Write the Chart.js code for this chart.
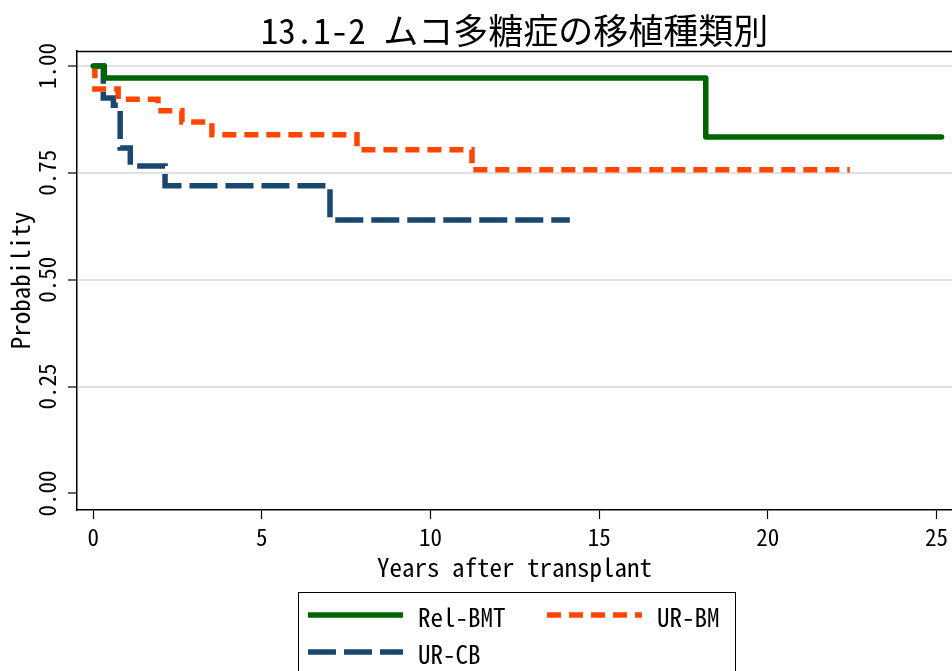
<!DOCTYPE html>
<html>
<head>
<meta charset="utf-8">
<script src="https://cdn.jsdelivr.net/npm/chart.js@4/dist/chart.umd.min.js"></script>
<style>
  html, body { margin: 0; padding: 0; background: #ffffff; }
  #wrap { width: 952px; height: 671px; overflow: hidden; }
</style>
</head>
<body>
<div id="wrap"><canvas id="c" width="952" height="671"></canvas></div>
<script>
// ---- data ----
const chartTitle = "13.1-2 ムコ多糖症の移植種類別";
const xAxisTitle = "Years after transplant";
const yAxisTitle = "Probability";
const seriesLabels = ["Rel-BMT", "UR-BM", "UR-CB"];

const relBmtTimes = [0, 0.33, 18.16, 25.15];
const relBmtSurv  = [1.0, 0.972, 0.834, 0.834];

const urBmTimes = [0, 0.05, 0.74, 1.92, 2.63, 3.52, 7.82, 11.23, 22.43];
const urBmSurv  = [1.0, 0.946, 0.922, 0.895, 0.869, 0.839, 0.804, 0.757, 0.757];

const urCbTimes = [0, 0.30, 0.60, 0.80, 1.10, 2.13, 7.02, 14.13];
const urCbSurv  = [1.0, 0.925, 0.908, 0.808, 0.766, 0.720, 0.640, 0.640];

const xTicks = [0, 5, 10, 15, 20, 25];
const yTicks = [0, 0.25, 0.5, 0.75, 1.0];
const yTickLabels = ["0.00", "0.25", "0.50", "0.75", "1.00"];

// ---- styling ----
const FONT = '"Noto Sans Mono CJK JP", "Noto Sans CJK JP", "Liberation Mono", monospace';
const colors = ["#006400", "#ff4500", "#1a476f"];
const dashes = [[], [14, 8], [28, 8]];

function toPoints(xs, ys) { return xs.map((x, i) => ({ x: x, y: ys[i] })); }

const datasets = [
  { label: seriesLabels[0], data: toPoints(relBmtTimes, relBmtSurv), borderColor: colors[0], borderDash: dashes[0],
    borderWidth: 5.5, stepped: true, pointRadius: 0, fill: false, borderCapStyle: 'round', borderJoinStyle: 'round' },
  { label: seriesLabels[1], data: toPoints(urBmTimes, urBmSurv), borderColor: colors[1], borderDash: dashes[1],
    borderWidth: 5.5, stepped: true, pointRadius: 0, fill: false, borderCapStyle: 'butt', borderJoinStyle: 'miter' },
  { label: seriesLabels[2], data: toPoints(urCbTimes, urCbSurv), borderColor: colors[2], borderDash: dashes[2],
    borderWidth: 5.5, stepped: true, pointRadius: 0, fill: false, borderCapStyle: 'butt', borderJoinStyle: 'miter' }
];

// top frame line + custom two-column legend
const framePlugin = {
  id: 'frameAndLegend',
  afterDraw(chart) {
    const ctx = chart.ctx;
    const a = chart.chartArea;
    ctx.save();
    ctx.strokeStyle = '#000';
    ctx.lineWidth = 1.5;
    ctx.beginPath();
    ctx.moveTo(a.left, a.top + 0.5);
    ctx.lineTo(a.right, a.top + 0.5);
    ctx.stroke();

    // legend box
    ctx.lineWidth = 1;
    ctx.strokeRect(298.5, 592.5, 437, 120);
    const cols = [308, 547];
    const rows = [615, 652];
    const sampleLen = 95;
    chart.data.datasets.forEach((ds, i) => {
      const cx = cols[i % 2];
      const cy = rows[Math.floor(i / 2)];
      ctx.beginPath();
      ctx.setLineDash(ds.borderDash || []);
      ctx.lineDashOffset = 0;
      ctx.strokeStyle = ds.borderColor;
      ctx.lineWidth = ds.borderWidth;
      ctx.lineCap = 'butt';
      ctx.moveTo(cx, cy);
      ctx.lineTo(cx + sampleLen, cy);
      ctx.stroke();
      ctx.setLineDash([]);
      ctx.fillStyle = '#000';
      ctx.font = '25px ' + FONT;
      ctx.textAlign = 'left';
      ctx.textBaseline = 'middle';
      ctx.fillText(ds.label, cx + sampleLen + 15, cy + 2);
    });
    ctx.restore();
  }
};

new Chart(document.getElementById('c'), {
  type: 'line',
  data: { datasets: datasets },
  plugins: [framePlugin],
  options: {
    responsive: false,
    devicePixelRatio: 1,
    animation: false,
    layout: { padding: { left: 0, right: 0, top: 0, bottom: 91 } },
    plugins: {
      legend: { display: false },
      tooltip: { enabled: false },
      title: {
        display: true,
        text: chartTitle,
        fullSize: false,
        color: '#000',
        font: { family: FONT, size: 35, weight: 'normal', lineHeight: 1.0 },
        padding: { top: 13, bottom: 3 }
      }
    },
    scales: {
      x: {
        type: 'linear',
        min: -0.48,
        max: 25.46,
        afterBuildTicks: (scale) => { scale.ticks = xTicks.map(v => ({ value: v })); },
        afterFit: (scale) => { scale.height = 70; scale.paddingLeft = 0; scale.paddingRight = 0; },
        ticks: {
          color: '#000',
          font: { family: FONT, size: 23 },
          padding: 4,
          maxRotation: 0,
          callback: (v) => String(v)
        },
        grid: { drawOnChartArea: false, drawTicks: true, tickLength: 9, tickColor: '#000', tickWidth: 1.2 },
        border: { display: true, color: '#000', width: 1.5 },
        title: {
          display: true,
          text: xAxisTitle,
          color: '#000',
          font: { family: FONT, size: 25, lineHeight: 1.0 },
          padding: { top: 0, bottom: 0.5 }
        }
      },
      y: {
        type: 'linear',
        min: -0.0386,
        max: 1.035,
        afterBuildTicks: (scale) => { scale.ticks = yTicks.map(v => ({ value: v })); },
        afterFit: (scale) => { scale.width = 77; scale.paddingTop = 0; scale.paddingBottom = 0; },
        ticks: {
          color: '#000',
          font: { family: FONT, size: 23 },
          padding: -2,
          minRotation: 90,
          maxRotation: 90,
          crossAlign: 'center',
          callback: (v) => { const i = yTicks.indexOf(v); return i >= 0 ? yTickLabels[i] : ''; }
        },
        grid: {
          drawOnChartArea: true,
          color: (c) => (c.tick && c.tick.value === 0) ? 'rgba(0,0,0,0)' : '#e2e2e2',
          lineWidth: 2,
          drawTicks: true,
          tickLength: 9,
          tickColor: '#000',
          tickWidth: 1.2
        },
        border: { display: true, color: '#000', width: 1.5 },
        title: {
          display: true,
          text: yAxisTitle,
          color: '#000',
          font: { family: FONT, size: 25, lineHeight: 1.0 },
          padding: { top: 7.5, bottom: 0 }
        }
      }
    }
  }
});
</script>
</body>
</html>
